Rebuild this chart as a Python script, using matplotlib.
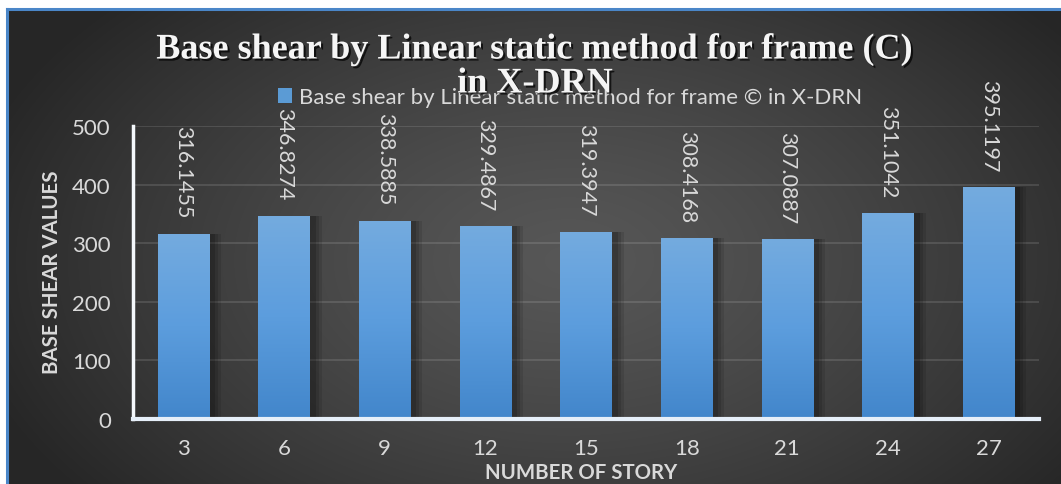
import numpy as np
import matplotlib
matplotlib.use("Agg")
import matplotlib.pyplot as plt
import matplotlib.patheffects as pe
from matplotlib.colors import LinearSegmentedColormap

# Data
stories = ["3", "6", "9", "12", "15", "18", "21", "24", "27"]
base_shear = [316.1455, 346.8274, 338.5885, 329.4867, 319.3947, 308.4168,
              307.0887, 351.1042, 395.1197]
y_ticks = [0, 100, 200, 300, 400, 500]

title_line1 = "Base shear by Linear static method for frame (C)"
title_line2 = "in X-DRN"
series_name = "Base shear by Linear static method for frame \u00a9 in X-DRN"
x_title = "NUMBER OF STORY"
y_title = "BASE SHEAR VALUES"

W, H = 1061, 485
DPI = 100
TXT = "#d9d9d9"
SANS = ["Lato", "DejaVu Sans"]
SERIF = ["Liberation Serif", "DejaVu Serif"]

fig = plt.figure(figsize=(W / DPI, H / DPI), dpi=DPI, facecolor="white")

# Dark radial-gradient chart background
bg = fig.add_axes([8 / W, 0, (W - 8) / W, (H - 11) / H], zorder=0)
bg.set_axis_off()
yy, xx = np.mgrid[0:H - 11, 0:W - 8]
cx, cy = 560, 250
r = np.sqrt(((xx - cx) / 620.0) ** 2 + ((yy - cy) / 380.0) ** 2)
r = np.clip(r, 0, 1)
val = 0.34 - (0.34 - 0.15) * r ** 1.3
bg.imshow(np.dstack([val, val, val]), aspect="auto", extent=(0, 1, 0, 1),
          origin="upper", interpolation="bilinear")
bg.set_xlim(0, 1)
bg.set_ylim(0, 1)

# Blue frame lines (top and left)
fig.add_artist(plt.Line2D([7 / W, 1], [1 - 10 / H, 1 - 10 / H],
                          color="#4a86c8", lw=2.2, transform=fig.transFigure))
fig.add_artist(plt.Line2D([7 / W, 7 / W], [0, 1 - 10 / H],
                          color="#4a86c8", lw=2.2, transform=fig.transFigure))

# Plot area
x0, x1, ytop, ybot = 133, 1039, 127, 420
ax = fig.add_axes([x0 / W, (H - ybot) / H, (x1 - x0) / W, (ybot - ytop) / H],
                  zorder=2)
ax.patch.set_alpha(0)
x = np.arange(len(stories))

bar_w = 0.51
# soft shadows to the right of each bar
for k, a in [(0.10, 0.10), (0.07, 0.12), (0.04, 0.15)]:
    ax.bar(x + k / 2 + 0.02, base_shear, width=bar_w + k, color="black",
           alpha=a, zorder=2, linewidth=0)

bars = ax.bar(x, base_shear, width=bar_w, color="#5b9bd5", zorder=3,
              linewidth=0, label=series_name)

# vertical gradient fill for bars
cmap = LinearSegmentedColormap.from_list("barfill", ["#4286cb", "#5c9ddd", "#74abdf"])
grad = np.linspace(0, 1, 256).reshape(-1, 1)
for b in bars:
    bx, by = b.get_x(), b.get_y()
    bw, bh = b.get_width(), b.get_height()
    im = ax.imshow(grad, cmap=cmap, aspect="auto", origin="lower",
                   extent=(bx, bx + bw, by, by + bh), zorder=3.5)
    im.set_clip_path(b)
ax.set_xlim(-0.5, len(stories) - 0.5)
ax.set_ylim(0, 500)

# Value labels
for xi, v in zip(x, base_shear):
    ax.annotate(f"{v}", xy=(xi, v), xytext=(0, 11.5), textcoords="offset points",
                rotation=270, ha="center", va="bottom", color=TXT,
                fontsize=15.5, family=SANS, zorder=5)

# Grid and axes
ax.set_yticks(y_ticks)
ax.yaxis.grid(True, color="white", alpha=0.13, lw=1.3, zorder=1)
ax.set_axisbelow(True)
ax.set_xticks(x)
ax.set_xticklabels(stories)
ax.tick_params(axis="both", length=0, colors=TXT, labelsize=16)
ax.tick_params(axis="x", pad=14)
ax.tick_params(axis="y", pad=16)
for lab in ax.get_xticklabels() + ax.get_yticklabels():
    lab.set_family(SANS)
for s in ["top", "right"]:
    ax.spines[s].set_visible(False)
ax.spines["left"].set_color("#f4f8fc")
ax.spines["left"].set_linewidth(2.5)
ax.spines["bottom"].set_color("#e6eff9")
ax.spines["bottom"].set_linewidth(3)
ax.spines["left"].set_zorder(6)
ax.spines["bottom"].set_zorder(6)

# Axis titles
fig.text(52 / W, 1 - 272 / H, y_title, rotation=90, ha="center", va="center",
         color=TXT, fontsize=14.7, fontweight="bold", family=SANS)
fig.text(581 / W, 1 - 473 / H, x_title, ha="center", va="center",
         color=TXT, fontsize=14.7, fontweight="bold", family=SANS)

# Legend
leg = fig.legend(handles=[bars], labels=[series_name], loc="center",
                 bbox_to_anchor=(570 / W, 1 - 98 / H), frameon=False,
                 handlelength=0.65, handleheight=0.65, handletextpad=0.3,
                 prop={"family": SANS, "size": 16})
for t in leg.get_texts():
    t.set_color(TXT)
leg.set_zorder(3)

# Chart title (two lines) with drop shadow
shadow = [pe.withSimplePatchShadow(offset=(1.5, -1.5), shadow_rgbFace="black",
                                   alpha=0.7)]
fig.text(535 / W, 1 - 51 / H, title_line1, ha="center", va="center",
         color="#f5f5f5", fontsize=26, fontweight="bold", family=SERIF,
         zorder=10, path_effects=shadow)
fig.text(535 / W, 1 - 85 / H, title_line2, ha="center", va="center",
         color="#f5f5f5", fontsize=26, fontweight="bold", family=SERIF,
         zorder=10, path_effects=shadow)

fig.savefig("out.png", dpi=DPI, facecolor="white")
